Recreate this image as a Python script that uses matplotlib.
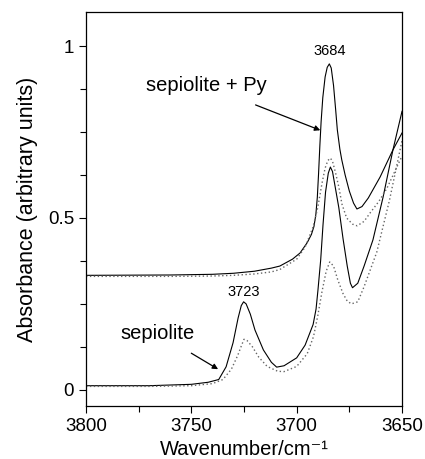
import matplotlib
matplotlib.use("Agg")
import matplotlib.pyplot as plt
from matplotlib.ticker import MultipleLocator

plt.rcParams["font.family"] = ["Liberation Sans", "DejaVu Sans"]

# sepiolite (solid / dotted)
sep_wn = [3800, 3770, 3750, 3742, 3737, 3733.5, 3730.2, 3727.8, 3726.3, 3725.2,
          3724, 3722, 3719.8, 3715.8, 3712, 3709.5, 3706, 3700, 3696, 3692.2,
          3690.8, 3689.9, 3688.6, 3687.5, 3686.3, 3685, 3684, 3683, 3682, 3680,
          3678, 3676, 3674.5, 3673.5, 3671, 3668, 3663.8, 3659, 3654.3, 3650]
sep_solid = [0.012, 0.012, 0.016, 0.022, 0.030, 0.067, 0.137, 0.209, 0.245, 0.256,
             0.250, 0.220, 0.174, 0.116, 0.080, 0.066, 0.070, 0.093, 0.130, 0.190,
             0.235, 0.290, 0.378, 0.480, 0.575, 0.630, 0.648, 0.635, 0.600, 0.530,
             0.440, 0.360, 0.310, 0.297, 0.310, 0.360, 0.436, 0.560, 0.698, 0.810]
sep_dot_wn = [3800, 3770, 3750, 3740, 3735, 3731, 3728, 3726, 3725, 3723.5,
              3721, 3718, 3714, 3709, 3706, 3700, 3695, 3692, 3690, 3688,
              3686, 3684.3, 3682.5, 3680.5, 3678, 3676, 3674, 3671, 3668, 3662,
              3656, 3650]
sep_dotted = [0.010, 0.010, 0.012, 0.018, 0.030, 0.060, 0.100, 0.132, 0.147, 0.143,
              0.125, 0.095, 0.068, 0.054, 0.053, 0.068, 0.105, 0.155, 0.215, 0.285,
              0.345, 0.372, 0.360, 0.320, 0.280, 0.258, 0.250, 0.256, 0.300, 0.400,
              0.550, 0.725]

# sepiolite + Py
py_wn = [3800, 3760, 3740, 3730, 3720, 3712, 3708, 3702, 3698.4, 3695,
         3693, 3691.8, 3690.9, 3690.2, 3689.6, 3689, 3688.4, 3687.6, 3686.5, 3685.5,
         3684.5, 3683.6, 3682.5, 3681.5, 3680.7, 3679.5, 3678.6, 3677, 3675, 3673,
         3671.4, 3669, 3666, 3660.4, 3654.3, 3650]
py_solid = [0.333, 0.334, 0.336, 0.339, 0.345, 0.354, 0.360, 0.380, 0.398, 0.428,
            0.452, 0.475, 0.510, 0.560, 0.630, 0.710, 0.780, 0.850, 0.910, 0.938,
            0.948, 0.936, 0.885, 0.815, 0.756, 0.700, 0.669, 0.625, 0.578, 0.543,
            0.526, 0.533, 0.558, 0.619, 0.698, 0.747]
py_dot_wn = [3800, 3760, 3740, 3730, 3720, 3712, 3708, 3700, 3696, 3692.2,
             3690, 3688, 3686.5, 3685.2, 3684, 3683, 3681.5, 3680, 3678.5, 3676.3,
             3673.5, 3671.3, 3668, 3665.2, 3661, 3657.1, 3650]
py_dotted = [0.330, 0.330, 0.331, 0.333, 0.337, 0.343, 0.350, 0.380, 0.415, 0.474,
             0.530, 0.600, 0.645, 0.667, 0.674, 0.665, 0.630, 0.590, 0.540, 0.500,
             0.482, 0.477, 0.490, 0.514, 0.548, 0.587, 0.680]

fig = plt.figure(figsize=(4.25, 4.59), dpi=100)
ax = fig.add_axes([0.2024, 0.1155, 0.7435, 0.8584])

ax.plot(sep_wn, sep_solid, color="black", lw=0.8)
ax.plot(sep_dot_wn, sep_dotted, color="0.4", lw=1.0, ls=(0, (1, 1.8)))
ax.plot(py_wn, py_solid, color="black", lw=0.8)
ax.plot(py_dot_wn, py_dotted, color="0.4", lw=1.0, ls=(0, (1, 1.8)))

ax.set_xlim(3800, 3650)
ax.set_ylim(-0.047, 1.099)
ax.xaxis.set_major_locator(MultipleLocator(50))
ax.xaxis.set_minor_locator(MultipleLocator(25))
ax.yaxis.set_minor_locator(MultipleLocator(0.125))
ax.set_yticks([0, 0.5, 1])
ax.set_yticklabels(["0", "0.5", "1"])
ax.tick_params(which="both", direction="out", labelsize=13.5, width=0.8,
               top=False, right=False)
ax.tick_params(which="major", length=5)
ax.tick_params(which="minor", length=4)
for s in ax.spines.values():
    s.set_linewidth(0.9)

ax.set_xlabel("Wavenumber/cm\u207b\u00b9", fontsize=14.5, labelpad=3.5)
ax.set_ylabel("Absorbance (arbitrary units)", fontsize=15.5, labelpad=7)

# annotations
ax.text(3684.3, 0.985, "3684", ha="center", va="center", fontsize=10.5)
ax.text(3725, 0.285, "3723", ha="center", va="center", fontsize=10.5)
ax.annotate("sepiolite + Py", xy=(3688.8, 0.755), xytext=(3743, 0.885),
            ha="center", va="center", fontsize=14.5,
            arrowprops=dict(arrowstyle="-|>", color="black", lw=0.9,
                            mutation_scale=8, shrinkA=14, shrinkB=0))
ax.annotate("sepiolite", xy=(3737.3, 0.06), xytext=(3766, 0.165),
            ha="center", va="center", fontsize=14.5,
            arrowprops=dict(arrowstyle="-|>", color="black", lw=0.9,
                            mutation_scale=8, shrinkA=11, shrinkB=0))

fig.savefig("out.png", dpi=100)
